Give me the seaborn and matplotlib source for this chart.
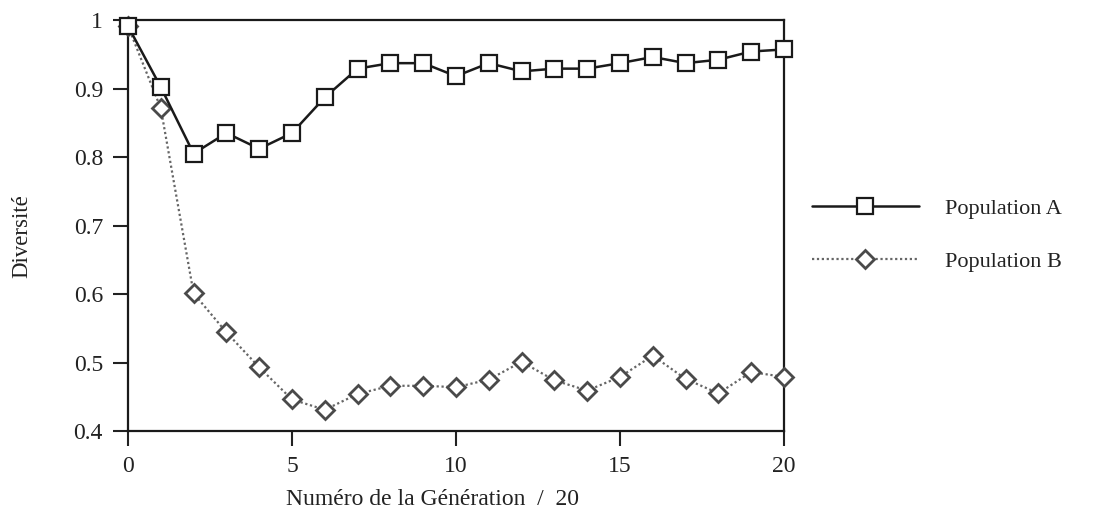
import matplotlib
matplotlib.use("Agg")
import matplotlib.pyplot as plt
import seaborn as sns
import pandas as pd

generations = list(range(21))
pop_a = [0.991, 0.902, 0.805, 0.835, 0.812, 0.835, 0.887, 0.929, 0.937, 0.937,
         0.918, 0.937, 0.925, 0.929, 0.929, 0.937, 0.946, 0.937, 0.942, 0.954, 0.957]
pop_b = [0.991, 0.871, 0.601, 0.544, 0.493, 0.446, 0.431, 0.454, 0.466, 0.466,
         0.464, 0.475, 0.501, 0.474, 0.459, 0.479, 0.510, 0.476, 0.455, 0.486, 0.479]
series_names = ["Population A", "Population B"]
x_ticks = [0, 5, 10, 15, 20]
y_ticks = [0.4, 0.5, 0.6, 0.7, 0.8, 0.9, 1.0]
y_tick_labels = ["0.4", "0.5", "0.6", "0.7", "0.8", "0.9", "1"]
x_label = "Numéro de la Génération  /  20"
y_label = "Diversité"

sns.set_style("ticks")
plt.rcParams["font.family"] = ["Liberation Serif", "DejaVu Serif"]

df_a = pd.DataFrame({"gen": generations, "val": pop_a})
df_b = pd.DataFrame({"gen": generations, "val": pop_b})

fig = plt.figure(figsize=(10.99, 5.16), dpi=100)
ax = fig.add_axes([128/1099, 1 - 431/516, (784-128)/1099, (431-20)/516])

sns.lineplot(data=df_a, x="gen", y="val", ax=ax, color="#1a1a1a", linewidth=1.8,
             marker="s", markersize=12, markerfacecolor="white",
             markeredgecolor="#1a1a1a", markeredgewidth=1.6, label=series_names[0],
             clip_on=False, zorder=4)
sns.lineplot(data=df_b, x="gen", y="val", ax=ax, color="#666666", linewidth=1.6,
             linestyle=(0, (1, 1.2)), marker="D", markersize=9, markerfacecolor="white",
             markeredgecolor="#4a4a4a", markeredgewidth=2.0, label=series_names[1],
             clip_on=False, zorder=3)

ax.set_xlim(0, 20)
ax.set_ylim(0.4, 1.0)
ax.set_xticks(x_ticks)
ax.set_yticks(y_ticks)
ax.set_yticklabels(y_tick_labels)
ax.tick_params(axis="both", direction="out", length=11, width=1.5, labelsize=17,
               colors="#222222", pad=7)
for side in ["left", "right", "top", "bottom"]:
    ax.spines[side].set_visible(True)
    ax.spines[side].set_linewidth(1.6)
    ax.spines[side].set_color("#1a1a1a")

ax.set_xlabel(x_label, fontsize=17, color="#222222")
ax.set_ylabel(y_label, fontsize=16.5, color="#222222")
ax.xaxis.set_label_coords((432-128)/656, (431-489)/411)
ax.yaxis.set_label_coords((32-128)/656, (431-236)/411)

leg = ax.legend(frameon=False, loc="center left", bbox_to_anchor=(792/1099, 1 - 235/516),
                bbox_transform=fig.transFigure, fontsize=16, handlelength=4.8,
                handletextpad=1.2, labelspacing=1.45, borderpad=0.4)
for t in leg.get_texts():
    t.set_color("#222222")

fig.savefig("out.png", dpi=100, facecolor="white")
